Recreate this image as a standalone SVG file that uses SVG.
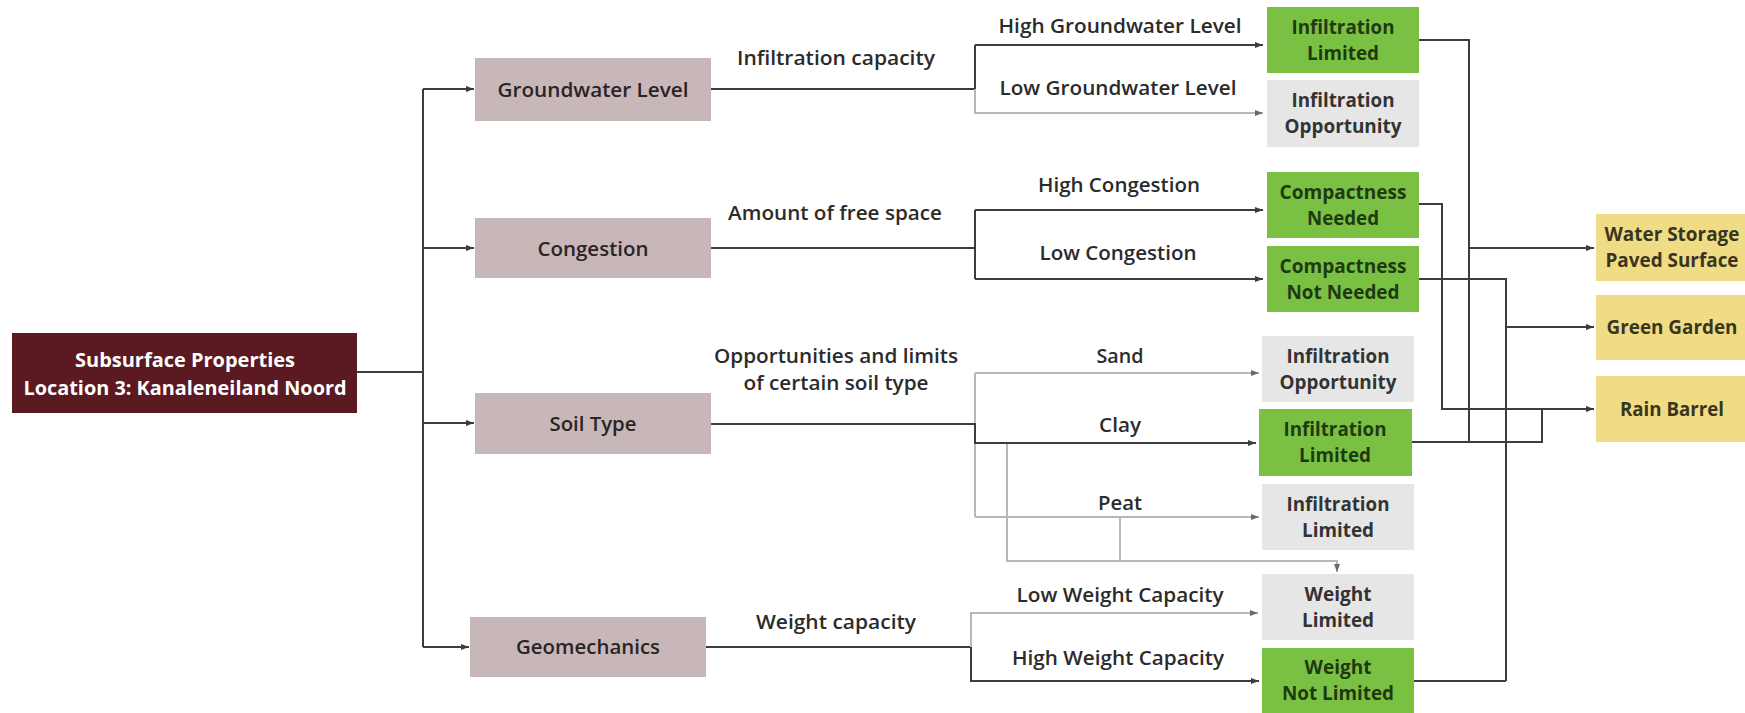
<svg xmlns="http://www.w3.org/2000/svg" width="1745" height="713" viewBox="0 0 1745 713">
<style>
  .bg{fill:#ffffff}
  .main{fill:#5b1a21}
  .prop{fill:#c8b7b8}
  .green{fill:#7ac143}
  .grey{fill:#e6e6e6}
  .yellow{fill:#f0dc84}
  text{font-family:"Open Sans","Noto Sans","Liberation Sans",sans-serif;text-anchor:middle}
  .tmain{font-size:20px;font-weight:700;fill:#ffffff}
  .tprop{font-size:20px;font-weight:600;fill:#2a2424}
  .tlab{font-size:20px;font-weight:600;fill:#2b2b2b}
  .tbox{font-size:19px;font-weight:700;fill:#333333}
  .tgreen{font-size:19px;font-weight:700;fill:#1f3a12}
  .tyel{font-size:19px;font-weight:700;fill:#3a3520}
  .dk{fill:none;stroke:#3d3d3d;stroke-width:2}
  .lt{fill:none;stroke:#b8b8b8;stroke-width:2}
</style>
<defs>
  <marker id="ad" viewBox="0 0 8 8" refX="8" refY="4" markerWidth="8" markerHeight="8" markerUnits="userSpaceOnUse" orient="auto">
    <path d="M0,1 L8,4 L0,7 z" fill="#3d3d3d"/>
  </marker>
  <marker id="al" viewBox="0 0 8 8" refX="8" refY="4" markerWidth="8" markerHeight="8" markerUnits="userSpaceOnUse" orient="auto">
    <path d="M0,1 L8,4 L0,7 z" fill="#6a6a6a"/>
  </marker>
</defs>
<rect class="bg" x="0" y="0" width="1745" height="713"/>

<g id="connectors">
  <!-- main trunk -->
  <path class="dk" d="M357,372 H423"/>
  <path class="dk" d="M423,89 V647"/>
  <path class="dk" d="M423,89 H474" marker-end="url(#ad)"/>
  <path class="dk" d="M423,248 H474" marker-end="url(#ad)"/>
  <path class="dk" d="M423,423 H474" marker-end="url(#ad)"/>
  <path class="dk" d="M423,647 H469" marker-end="url(#ad)"/>

  <!-- groundwater -->
  <path class="dk" d="M711,89 H975 V45"/>
  <path class="dk" d="M975,45 H1263" marker-end="url(#ad)"/>
  <path class="lt" d="M975,89 V113 H1263" marker-end="url(#al)"/>

  <!-- congestion -->
  <path class="dk" d="M711,248 H975"/>
  <path class="dk" d="M975,210 V279"/>
  <path class="dk" d="M975,210 H1263" marker-end="url(#ad)"/>
  <path class="dk" d="M975,279 H1263" marker-end="url(#ad)"/>

  <!-- soil type -->
  <path class="lt" d="M975,373 V517"/>
  <path class="lt" d="M975,373 H1259" marker-end="url(#al)"/>
  <path class="lt" d="M975,517 H1259" marker-end="url(#al)"/>
  <path class="lt" d="M1007,444 V561 H1337 V572" marker-end="url(#al)"/>
  <path class="lt" d="M1120,517 V561"/>
  <path class="dk" d="M711,424 H975 V443 H1256" marker-end="url(#ad)"/>

  <!-- geomechanics -->
  <path class="dk" d="M706,647 H971"/>
  <path class="lt" d="M971,647 V613 H1258" marker-end="url(#al)"/>
  <path class="dk" d="M971,647 V681 H1259" marker-end="url(#ad)"/>

  <!-- outputs -->
  <path class="dk" d="M1419,40 H1469 V442"/>
  <path class="dk" d="M1469,248 H1594" marker-end="url(#ad)"/>
  <path class="dk" d="M1419,204 H1442 V409 H1594" marker-end="url(#ad)"/>
  <path class="dk" d="M1419,279 H1506 V681"/>
  <path class="dk" d="M1506,327 H1594" marker-end="url(#ad)"/>
  <path class="dk" d="M1412,442 H1542 V409"/>
  <path class="dk" d="M1414,681 H1506"/>
</g>

<g id="node-main">
  <rect class="main" x="12" y="333" width="345" height="80"/>
  <text class="tmain" x="185" y="367" textLength="220" lengthAdjust="spacingAndGlyphs">Subsurface Properties</text>
  <text class="tmain" x="185" y="395" textLength="323" lengthAdjust="spacingAndGlyphs">Location 3: Kanaleneiland Noord</text>
</g>

<g id="node-groundwater">
  <rect class="prop" x="475" y="58" width="236" height="63"/>
  <text class="tprop" x="593" y="97" textLength="191" lengthAdjust="spacingAndGlyphs">Groundwater Level</text>
</g>
<g id="node-congestion">
  <rect class="prop" x="475" y="218" width="236" height="60"/>
  <text class="tprop" x="593" y="256" textLength="111" lengthAdjust="spacingAndGlyphs">Congestion</text>
</g>
<g id="node-soil">
  <rect class="prop" x="475" y="393" width="236" height="61"/>
  <text class="tprop" x="593" y="431" textLength="87" lengthAdjust="spacingAndGlyphs">Soil Type</text>
</g>
<g id="node-geomechanics">
  <rect class="prop" x="470" y="617" width="236" height="60"/>
  <text class="tprop" x="588" y="654" textLength="144" lengthAdjust="spacingAndGlyphs">Geomechanics</text>
</g>

<g id="labels">
  <text class="tlab" x="836" y="65" textLength="198" lengthAdjust="spacingAndGlyphs">Infiltration capacity</text>
  <text class="tlab" x="1120" y="33" textLength="243" lengthAdjust="spacingAndGlyphs">High Groundwater Level</text>
  <text class="tlab" x="1118" y="95" textLength="237" lengthAdjust="spacingAndGlyphs">Low Groundwater Level</text>
  <text class="tlab" x="835" y="220" textLength="214" lengthAdjust="spacingAndGlyphs">Amount of free space</text>
  <text class="tlab" x="1119" y="192" textLength="162" lengthAdjust="spacingAndGlyphs">High Congestion</text>
  <text class="tlab" x="1118" y="260" textLength="157" lengthAdjust="spacingAndGlyphs">Low Congestion</text>
  <text class="tlab" x="836" y="363" textLength="244" lengthAdjust="spacingAndGlyphs">Opportunities and limits</text>
  <text class="tlab" x="836" y="390" textLength="185" lengthAdjust="spacingAndGlyphs">of certain soil type</text>
  <text class="tlab" x="1120" y="363" textLength="47" lengthAdjust="spacingAndGlyphs">Sand</text>
  <text class="tlab" x="1120" y="432" textLength="42" lengthAdjust="spacingAndGlyphs">Clay</text>
  <text class="tlab" x="1120" y="510" textLength="44" lengthAdjust="spacingAndGlyphs">Peat</text>
  <text class="tlab" x="836" y="629" textLength="160" lengthAdjust="spacingAndGlyphs">Weight capacity</text>
  <text class="tlab" x="1120" y="602" textLength="207" lengthAdjust="spacingAndGlyphs">Low Weight Capacity</text>
  <text class="tlab" x="1118" y="665" textLength="212" lengthAdjust="spacingAndGlyphs">High Weight Capacity</text>
</g>

<g id="node-gw-high">
  <rect class="green" x="1267" y="7" width="152" height="66"/>
  <text class="tgreen" x="1343" y="34" textLength="103" lengthAdjust="spacingAndGlyphs">Infiltration</text>
  <text class="tgreen" x="1343" y="60" textLength="72" lengthAdjust="spacingAndGlyphs">Limited</text>
</g>
<g id="node-gw-low">
  <rect class="grey" x="1267" y="80" width="152" height="67"/>
  <text class="tbox" x="1343" y="107" textLength="103" lengthAdjust="spacingAndGlyphs">Infiltration</text>
  <text class="tbox" x="1343" y="133" textLength="117" lengthAdjust="spacingAndGlyphs">Opportunity</text>
</g>
<g id="node-cong-high">
  <rect class="green" x="1267" y="172" width="152" height="66"/>
  <text class="tgreen" x="1343" y="199" textLength="127" lengthAdjust="spacingAndGlyphs">Compactness</text>
  <text class="tgreen" x="1343" y="225" textLength="72" lengthAdjust="spacingAndGlyphs">Needed</text>
</g>
<g id="node-cong-low">
  <rect class="green" x="1267" y="246" width="152" height="66"/>
  <text class="tgreen" x="1343" y="273" textLength="127" lengthAdjust="spacingAndGlyphs">Compactness</text>
  <text class="tgreen" x="1343" y="299" textLength="113" lengthAdjust="spacingAndGlyphs">Not Needed</text>
</g>
<g id="node-sand">
  <rect class="grey" x="1262" y="336" width="152" height="66"/>
  <text class="tbox" x="1338" y="363" textLength="103" lengthAdjust="spacingAndGlyphs">Infiltration</text>
  <text class="tbox" x="1338" y="389" textLength="117" lengthAdjust="spacingAndGlyphs">Opportunity</text>
</g>
<g id="node-clay">
  <rect class="green" x="1259" y="409" width="153" height="67"/>
  <text class="tgreen" x="1335" y="436" textLength="103" lengthAdjust="spacingAndGlyphs">Infiltration</text>
  <text class="tgreen" x="1335" y="462" textLength="72" lengthAdjust="spacingAndGlyphs">Limited</text>
</g>
<g id="node-peat">
  <rect class="grey" x="1262" y="484" width="152" height="66"/>
  <text class="tbox" x="1338" y="511" textLength="103" lengthAdjust="spacingAndGlyphs">Infiltration</text>
  <text class="tbox" x="1338" y="537" textLength="72" lengthAdjust="spacingAndGlyphs">Limited</text>
</g>
<g id="node-weight-low">
  <rect class="grey" x="1262" y="574" width="152" height="66"/>
  <text class="tbox" x="1338" y="601" textLength="67" lengthAdjust="spacingAndGlyphs">Weight</text>
  <text class="tbox" x="1338" y="627" textLength="72" lengthAdjust="spacingAndGlyphs">Limited</text>
</g>
<g id="node-weight-high">
  <rect class="green" x="1262" y="648" width="152" height="70"/>
  <text class="tgreen" x="1338" y="674" textLength="67" lengthAdjust="spacingAndGlyphs">Weight</text>
  <text class="tgreen" x="1338" y="700" textLength="112" lengthAdjust="spacingAndGlyphs">Not Limited</text>
</g>

<g id="node-water-storage">
  <rect class="yellow" x="1596" y="214" width="152" height="67"/>
  <text class="tyel" x="1672" y="241" textLength="135" lengthAdjust="spacingAndGlyphs">Water Storage</text>
  <text class="tyel" x="1672" y="267" textLength="133" lengthAdjust="spacingAndGlyphs">Paved Surface</text>
</g>
<g id="node-green-garden">
  <rect class="yellow" x="1596" y="295" width="152" height="65"/>
  <text class="tyel" x="1672" y="334" textLength="131" lengthAdjust="spacingAndGlyphs">Green Garden</text>
</g>
<g id="node-rain-barrel">
  <rect class="yellow" x="1596" y="376" width="152" height="66"/>
  <text class="tyel" x="1672" y="416" textLength="104" lengthAdjust="spacingAndGlyphs">Rain Barrel</text>
</g>
</svg>
